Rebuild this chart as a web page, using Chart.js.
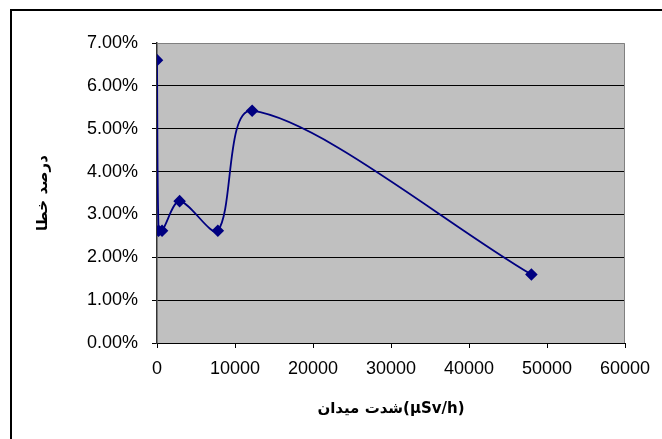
<!DOCTYPE html>
<html>
<head>
<meta charset="utf-8">
<script src="https://cdn.jsdelivr.net/npm/chart.js"></script>
<style>
  html, body { margin: 0; padding: 0; background: #fff; }
  #wrap { width: 662px; height: 439px; position: relative; }
</style>
</head>
<body>
<div id="wrap"><canvas id="chart"></canvas></div>
<script>
// field intensity (µSv/h) vs error percent
const doseRates = [0, 200, 650, 2900, 7800, 12200, 48000];
const errorPct = [6.6, 2.62, 2.62, 3.31, 2.62, 5.42, 1.6];
const xTicks = [0, 10000, 20000, 30000, 40000, 50000, 60000];
const yTicks = [0, 1, 2, 3, 4, 5, 6, 7];

const points = doseRates.map((x, i) => ({ x: x, y: errorPct[i] }));

// outer frame + grey plot area like the excel export
const frame = {
  id: 'frame',
  beforeDraw(chart) {
    const ctx = chart.ctx;
    const a = chart.chartArea;
    ctx.save();
    ctx.fillStyle = '#fff';
    ctx.fillRect(0, 0, chart.width, chart.height);
    ctx.strokeStyle = '#000';
    ctx.lineWidth = 2;
    ctx.strokeRect(11, 10, 700, 500);
    ctx.fillStyle = '#c0c0c0';
    ctx.fillRect(a.left, a.top, a.right - a.left, a.bottom - a.top);
    ctx.restore();
  },
  beforeDatasetsDraw(chart) {
    const ctx = chart.ctx;
    const a = chart.chartArea;
    ctx.save();
    ctx.strokeStyle = '#808080';
    ctx.lineWidth = 1;
    ctx.beginPath();
    ctx.moveTo(a.left, a.top + 0.5);
    ctx.lineTo(a.right - 0.5, a.top + 0.5);
    ctx.lineTo(a.right - 0.5, a.bottom);
    ctx.stroke();
    ctx.restore();
  }
};

new Chart(document.getElementById('chart'), {
  type: 'scatter',
  data: {
    datasets: [{
      data: points,
      showLine: true,
      borderColor: '#000080',
      backgroundColor: '#000080',
      borderWidth: 1.8,
      tension: 0.3,
      pointStyle: 'rectRot',
      pointRadius: 5,
      pointHoverRadius: 5
    }]
  },
  options: {
    responsive: true,
    maintainAspectRatio: false,
    animation: false,
    layout: { padding: { left: 0, right: 37, top: 43, bottom: 0 } },
    plugins: {
      legend: { display: false },
      tooltip: { enabled: false }
    },
    scales: {
      x: {
        type: 'linear',
        min: 0,
        max: 60000,
        afterFit(scale) { scale.height = 96; },
        afterBuildTicks(scale) { scale.ticks = xTicks.map(v => ({ value: v })); },
        ticks: {
          color: '#000',
          padding: 10,
          maxRotation: 0,
          font: { family: 'Liberation Sans', size: 18 },
          callback: v => String(v)
        },
        grid: {
          drawOnChartArea: false,
          drawTicks: true,
          tickLength: 5,
          color: '#000'
        },
        border: { color: '#000', width: 1 },
        title: {
          display: true,
          text: 'شدت میدان(µSv/h)',
          color: '#000',
          font: { family: 'DejaVu Sans', size: 15, weight: 'bold' },
          padding: { top: 0, bottom: 21 }
        }
      },
      y: {
        type: 'linear',
        min: 0,
        max: 7,
        afterFit(scale) { scale.width = 157; },
        afterBuildTicks(scale) { scale.ticks = yTicks.map(v => ({ value: v })); },
        ticks: {
          color: '#000',
          padding: 14,
          font: { family: 'Liberation Sans', size: 18 },
          callback: v => v.toFixed(2) + '%'
        },
        grid: {
          color: ctx => (ctx.tick && (ctx.tick.value === 7 || ctx.tick.value === 0)) ? 'rgba(0,0,0,0)' : '#000',
          tickColor: '#000',
          tickLength: 5,
          lineWidth: 1
        },
        border: { color: '#333', width: 1.5 },
        title: {
          display: true,
          text: 'درصد خطا',
          color: '#000',
          font: { family: 'DejaVu Sans', size: 15, weight: 'bold' },
          padding: { top: 34, bottom: 0 }
        }
      }
    }
  },
  plugins: [frame]
});
</script>
</body>
</html>
